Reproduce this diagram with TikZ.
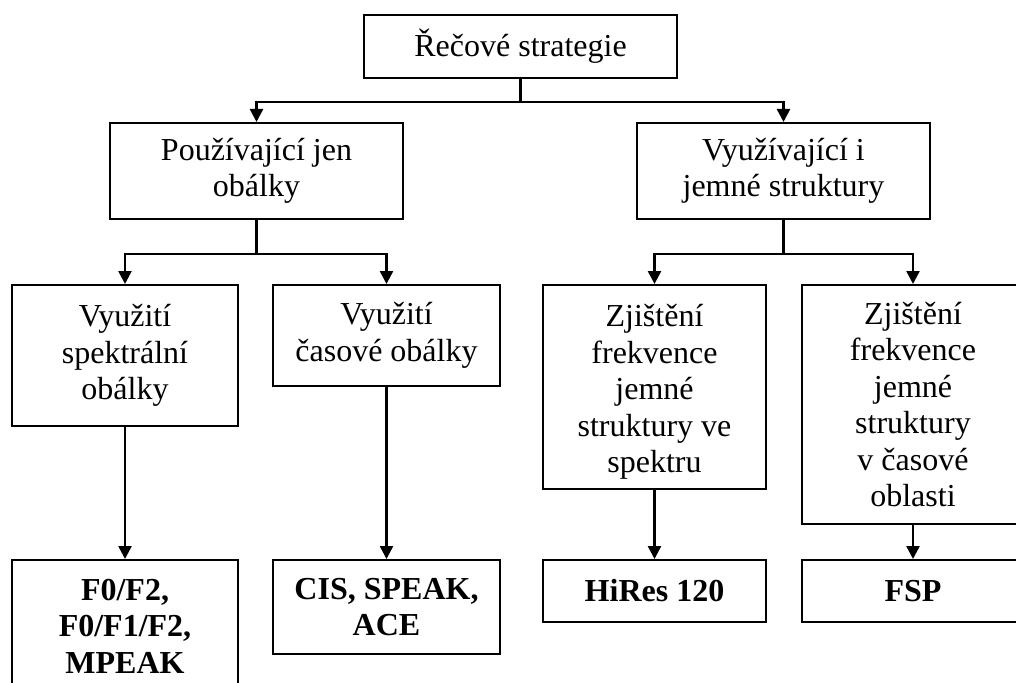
\documentclass[tikz,border=0pt]{standalone}
\usepackage{fontspec}
\setmainfont{Liberation Serif}
\usetikzlibrary{arrows.meta}
\begin{document}
\begin{tikzpicture}[x=1pt,y=-1pt,
  box/.style={draw, line width=2pt, rectangle, align=center, inner sep=0pt,
    font=\fontsize{32}{36.5}\selectfont},
  res/.style={box, font=\fontsize{32}{36.5}\selectfont\bfseries},
  txt/.style={align=center, inner sep=0pt, font=\fontsize{32}{36.5}\selectfont},
  link/.style={line width=2.5pt, -{Triangle[length=13pt,width=13pt]}}]
\clip (0,0) rectangle (1016,682);
\fill[white] (0,0) rectangle (1016,682);

% root
\node[box, minimum width=313, minimum height=63] (root) at (520.5,46.5) {Řečové strategie};

% second level
\node[box, minimum width=293, minimum height=96] (lm) at (256.5,171) {Používající jen\\obálky};
\node[box, minimum width=293, minimum height=96] (rm) at (783.5,171) {Využívající i\\jemné struktury};

% third level
\node[box, minimum width=226, minimum height=141] (a) at (125,355.5) {Využití\\spektrální\\obálky};
\node[box, minimum width=227, minimum height=101] (b) at (386.5,335.5) {Využití\\časové obálky};
\node[box, minimum width=223, minimum height=204] (c) at (654.5,387) {};
\node[txt] (ctext) at ([yshift=-5pt]c.center) {Zjištění\\frekvence\\jemné\\struktury ve\\spektru};
\node[box, minimum width=222, minimum height=239] (d) at (913,404.5) {Zjištění\\frekvence\\jemné\\struktury\\v časové\\oblasti};

% implementations
\node[res, minimum width=226, minimum height=132] (af) at (125,626) {F0/F2,\\F0/F1/F2,\\MPEAK};
\node[res, minimum width=227, minimum height=94] (bf) at (386.5,607) {CIS, SPEAK,\\ACE};
\node[res, minimum width=223, minimum height=62] (cf) at (654.5,591) {HiRes 120};
\node[res, minimum width=222, minimum height=62] (df) at (913,591) {FSP};

% connectors
\draw[link] (root.south) -- ++(0,23) -| (lm.north);
\draw[link] (root.south) -- ++(0,23) -| (rm.north);
\draw[link] (lm.south) -- ++(0,34) -| (a.north);
\draw[link] (lm.south) -- ++(0,34) -| (b.north);
\draw[link] (rm.south) -- ++(0,34) -| (c.north);
\draw[link] (rm.south) -- ++(0,34) -| (d.north);
\draw[link] (a.south) -- (af.north);
\draw[link] (b.south) -- (bf.north);
\draw[link] (c.south) -- (cf.north);
\draw[link] (d.south) -- (df.north);
\end{tikzpicture}
\end{document}
